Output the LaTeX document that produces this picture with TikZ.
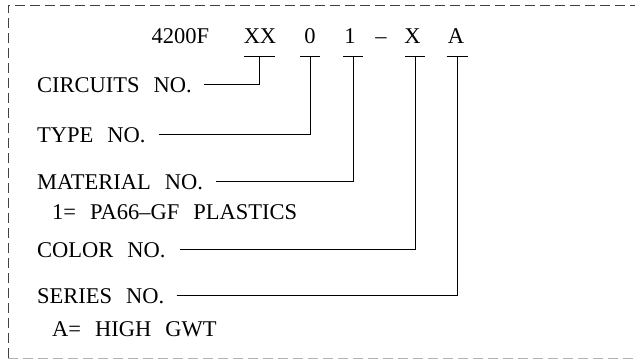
\documentclass[tikz,border=0pt]{standalone}
\usepackage{fontspec}
\setmainfont{Liberation Serif}
\begin{document}
\begin{tikzpicture}[x=1pt,y=-1pt,
  lab/.style={anchor=base west,inner sep=0pt,text height=14.5pt,text depth=0pt,font=\fontsize{22.5}{27}\selectfont},
  code/.style={anchor=base,inner sep=0pt,font=\fontsize{22.5}{27}\selectfont},
  conn/.style={line width=0.8pt,black},
  frame/.style={line width=1pt,dash pattern=on 10pt off 5pt}]
\newcommand\gp{\hspace{14pt}}
\useasboundingbox (0,0) rectangle (635,359);
% dashed frame
\draw[frame,black!75] (8,358) -- (8,5) -- (635,5);
\draw[frame,gray!60] (8,358) -- (635,358);
% code line
\node[code] (n4200) at (180.5,43) {4200F};
\node[code] (nXX) at (260,43) {XX};
\node[code] (n0) at (310,43) {0};
\node[code] (n1) at (350,43) {1};
\node[code] (ndash) at (381,43) {\textendash};
\node[code] (nX) at (412.5,43) {X};
\node[code] (nA) at (456,43) {A};
% tick points
\coordinate (kXX) at (259,56);
\coordinate (k0) at (310,56);
\coordinate (k1) at (353,56);
\coordinate (kX) at (415,56);
\coordinate (kA) at (457,56);
\foreach \k/\w in {kXX/15.5,k0/10,k1/10,kX/10,kA/10.5}
  \draw[conn] ([xshift=-\w pt]\k) -- ([xshift=\w pt]\k);
% labels
\node[lab] (cir) at (37,92) {CIRCUITS\gp NO.};
\node[lab] (typ) at (37,142) {TYPE\gp NO.};
\node[lab] (mat) at (37,189) {MATERIAL\gp NO.};
\node[lab] (pla) at (52,219) {1=\gp PA66\textendash GF\gp PLASTICS};
\node[lab] (col) at (37,257) {COLOR\gp NO.};
\node[lab] (ser) at (37,303) {SERIES\gp NO.};
\node[lab] (hig) at (52,336) {A=\gp HIGH\gp GWT};
% connectors
\draw[conn] ([xshift=12pt]cir.east) -| (kXX);
\draw[conn] ([xshift=13pt]typ.east) -| (k0);
\draw[conn] ([xshift=13pt]mat.east) -| (k1);
\draw[conn] ([xshift=14pt]col.east) -| (kX);
\draw[conn] ([xshift=12pt]ser.east) -| (kA);
\end{tikzpicture}
\end{document}
